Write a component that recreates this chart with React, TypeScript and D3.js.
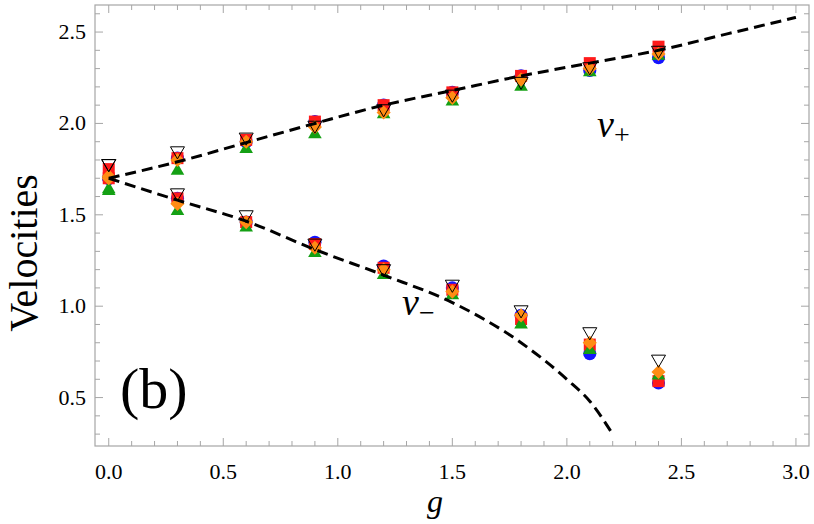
import React, { useEffect, useRef } from 'react';
import * as d3 from 'd3';

// coupling values where the data were taken
const gValues = [0, 0.3, 0.6, 0.9, 1.2, 1.5, 1.8, 2.1, 2.4];

// upper branch (v+)
const plusCircle = [1.7, 1.81, 1.9, 2.01, 2.1, 2.17, 2.26, 2.29, 2.36];
const plusSquare = [1.75, 1.81, 1.91, 2.01, 2.1, 2.17, 2.26, 2.33, 2.42];
const plusTriUp = [1.64, 1.74, 1.86, 1.94, 2.05, 2.12, 2.2, 2.28, 2.37];
const plusDiamond = [1.71, 1.8, 1.9, 1.98, 2.06, 2.14, 2.24, 2.3, 2.38];
const plusTriDown = [1.78, 1.85, 1.925, 1.99, 2.08, 2.16, 2.23, 2.31, 2.4];

// lower branch (v-)
const minusCircle = [1.7, 1.59, 1.46, 1.35, 1.22, 1.1, 0.95, 0.74, 0.58];
const minusSquare = [1.7, 1.59, 1.46, 1.34, 1.21, 1.09, 0.93, 0.79, 0.59];
const minusTriUp = [1.63, 1.52, 1.43, 1.29, 1.17, 1.06, 0.9, 0.76, 0.62];
const minusDiamond = [1.7, 1.56, 1.46, 1.32, 1.2, 1.08, 0.95, 0.8, 0.64];
const minusTriDown = [1.78, 1.62, 1.5, 1.345, 1.205, 1.12, 0.98, 0.86, 0.71];

// theory curves (dashed)
const curvePlusG = [0, 0.3, 0.6, 0.9, 1.2, 1.5, 1.8, 2.1, 2.4, 2.7, 3.0];
const curvePlus = [1.7, 1.79, 1.895, 2.0, 2.1, 2.18, 2.26, 2.33, 2.4, 2.49, 2.58];
const curveMinusG = [0, 0.3, 0.6, 0.9, 1.2, 1.5, 1.8, 2.0, 2.1, 2.2];
const curveMinus = [1.7, 1.58, 1.465, 1.31, 1.17, 1.02, 0.8, 0.6, 0.48, 0.3];

const xTicks = [0, 0.5, 1, 1.5, 2, 2.5, 3];
const yTicks = [0.5, 1, 1.5, 2, 2.5];

const App = () => {
  const svgRef = useRef<SVGSVGElement>(null);

  useEffect(() => {
    const W = 814;
    const H = 524;
    const frame = { left: 95, right: 809, top: 5, bottom: 446 };

    d3.select(svgRef.current).selectAll('*').remove();
    const svg = d3.select(svgRef.current).attr('width', W).attr('height', H);

    const x = d3.scaleLinear().domain([-0.06, 3.057]).range([frame.left, frame.right]);
    const y = d3.scaleLinear().domain([0.235, 2.648]).range([frame.bottom, frame.top]);

    // frame
    svg
      .append('rect')
      .attr('x', frame.left)
      .attr('y', frame.top)
      .attr('width', frame.right - frame.left)
      .attr('height', frame.bottom - frame.top)
      .attr('fill', 'none')
      .attr('stroke', '#a6a6a6')
      .attr('stroke-width', 1.2);

    // ticks on all four sides
    const xMinor = d3.range(0, 31).map(i => i / 10);
    const yMinor = d3.range(3, 27).map(i => i / 10);
    const isMajor = (v: number) => Math.abs(v * 2 - Math.round(v * 2)) < 1e-6;
    const tickG = svg.append('g').attr('stroke', '#a6a6a6').attr('stroke-width', 1);
    xMinor.forEach(v => {
      const len = isMajor(v) ? 8 : 5;
      tickG.append('line').attr('x1', x(v)).attr('x2', x(v)).attr('y1', frame.bottom).attr('y2', frame.bottom - len);
      tickG.append('line').attr('x1', x(v)).attr('x2', x(v)).attr('y1', frame.top).attr('y2', frame.top + len);
    });
    yMinor.forEach(v => {
      const len = isMajor(v) ? 8 : 5;
      tickG.append('line').attr('x1', frame.left).attr('x2', frame.left + len).attr('y1', y(v)).attr('y2', y(v));
      tickG.append('line').attr('x1', frame.right).attr('x2', frame.right - len).attr('y1', y(v)).attr('y2', y(v));
    });

    const textG = svg.append('g').style('font-family', 'Liberation Serif').attr('fill', '#000');

    // tick labels
    textG
      .append('g')
      .selectAll('text')
      .data(xTicks)
      .enter()
      .append('text')
      .attr('x', d => x(d))
      .attr('y', 479)
      .attr('text-anchor', 'middle')
      .style('font-size', '22px')
      .text(d => d3.format('.1f')(d));

    textG
      .append('g')
      .selectAll('text')
      .data(yTicks)
      .enter()
      .append('text')
      .attr('x', 86)
      .attr('y', d => y(d) + 7)
      .attr('text-anchor', 'end')
      .style('font-size', '22px')
      .text(d => d3.format('.1f')(d));

    // axis titles
    textG
      .append('text')
      .attr('x', 435)
      .attr('y', 512)
      .attr('text-anchor', 'middle')
      .style('font-style', 'italic')
      .style('font-size', '32px')
      .text('g');

    textG
      .append('text')
      .attr('transform', 'translate(37, 253) rotate(-90)')
      .attr('text-anchor', 'middle')
      .style('font-size', '40px')
      .text('Velocities');

    // markers
    const series = [
      { plus: plusCircle, minus: minusCircle, type: d3.symbolCircle, size: 135, fill: '#1414ff', stroke: 'none', rot: 0 },
      { plus: plusSquare, minus: minusSquare, type: d3.symbolSquare, size: 144, fill: '#ff1a1a', stroke: 'none', rot: 0 },
      { plus: plusTriUp, minus: minusTriUp, type: d3.symbolTriangle, size: 80, fill: '#14a014', stroke: 'none', rot: 0 },
      { plus: plusDiamond, minus: minusDiamond, type: d3.symbolSquare, size: 100, fill: '#ff8c14', stroke: 'none', rot: 45 },
      { plus: plusTriDown, minus: minusTriDown, type: d3.symbolTriangle, size: 85, fill: 'none', stroke: '#000', rot: 180 }
    ];

    const markG = svg.append('g');
    series.forEach(s => {
      const path = d3.symbol().type(s.type).size(s.size)();
      [s.plus, s.minus].forEach(vals => {
        markG
          .append('g')
          .selectAll('path')
          .data(gValues.map((g, i) => [g, vals[i]]))
          .enter()
          .append('path')
          .attr('d', path)
          .attr('transform', d => `translate(${x(d[0])}, ${y(d[1])}) rotate(${s.rot})`)
          .attr('fill', s.fill)
          .attr('stroke', s.stroke)
          .attr('stroke-width', 1);
      });
    });

    // dashed theory curves
    const line = d3
      .line<[number, number]>()
      .x(d => x(d[0]))
      .y(d => y(d[1]))
      .curve(d3.curveMonotoneX);

    [
      curvePlusG.map((g, i) => [g, curvePlus[i]] as [number, number]),
      curveMinusG.map((g, i) => [g, curveMinus[i]] as [number, number])
    ].forEach(pts => {
      svg
        .append('path')
        .attr('d', line(pts))
        .attr('fill', 'none')
        .attr('stroke', '#000')
        .attr('stroke-width', 3)
        .attr('stroke-dasharray', '11,6');
    });

    // labels in the plot
    const vPlus = textG.append('text').attr('x', 597).attr('y', 137).style('font-size', '38px');
    vPlus.append('tspan').style('font-style', 'italic').text('v');
    vPlus.append('tspan').attr('dy', 7).style('font-size', '28px').text('+');

    const vMinus = textG.append('text').attr('x', 402).attr('y', 315).style('font-size', '38px');
    vMinus.append('tspan').style('font-style', 'italic').text('v');
    vMinus.append('tspan').attr('dy', 7).style('font-size', '28px').text('\u2212');

    textG.append('text').attr('x', 120).attr('y', 408).style('font-size', '58px').text('(b)');
  }, []);

  return <svg ref={svgRef} style={{ position: 'absolute', left: 0, top: 0 }}></svg>;
};

export default App;
